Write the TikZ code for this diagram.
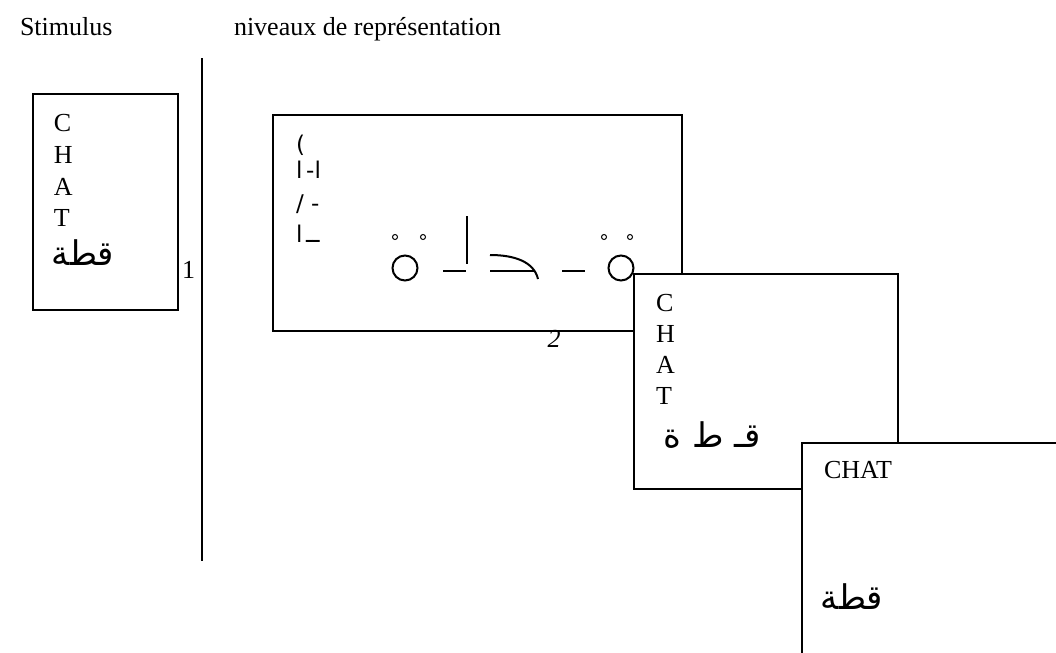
\documentclass[tikz,border=0pt]{standalone}
\usepackage{fontspec}
\setmainfont{Liberation Serif}
\newfontfamily\arabicfont[Script=Arabic]{DejaVu Sans}
\newfontfamily\glyphfont{DejaVu Sans}
\TeXXeTstate=1
\begin{document}
\begin{tikzpicture}[x=0.5pt,y=-0.5pt,line width=1pt,
  box/.style={draw,line width=1pt,fill=white},
  lbl/.style={inner sep=0pt,font=\fontsize{13}{15.5}\selectfont},
  ar/.style={inner sep=0pt,font=\arabicfont\fontsize{17}{20}\selectfont},
  gl/.style={inner sep=0pt,font=\glyphfont\fontsize{11.5}{13}\selectfont},
  thin/.style={line width=0.5pt}]
\useasboundingbox (0,0) rectangle (1056,653);
\clip (0,0) rectangle (1056,653);
% titles
\node[lbl,anchor=base west] (stim) at (19,35) {Stimulus};
\node[lbl,anchor=base west] (niv) at (233,35) {niveaux de représentation};
% separator
\coordinate (vtop) at (202,58);
\coordinate (vbot) at (202,561);
\draw (vtop) -- (vbot);
% box 1
\draw[box] (33,94) rectangle (178,310);
\node[lbl,anchor=base west] (c1) at (53,131) {C};
\node[lbl,anchor=base west] (h1) at (53,163) {H};
\node[lbl,anchor=base west] (a1) at (53,195) {A};
\node[lbl,anchor=base west] (t1) at (53,226) {T};
\node[ar] (ar1) at (83,253) {\beginR قطة\endR};
\node[lbl,anchor=base west] (one) at (181,278) {1};
% box 2
\draw[box] (273,115) rectangle (682,331);
\node[gl,anchor=base west] (g1) at (295,152) {(};
\node[gl,anchor=base west] (g2) at (295,178) {\mbox{ا}\,\mbox{-}\mbox{ا}};
\node[gl,anchor=base west] (g3) at (295,211) {/\ -};
\node[gl,anchor=base west] (g4) at (295,242) {\mbox{ا}\,\mbox{ـ}\mbox{ـ}};
% box 3
\draw[box] (634,274) rectangle (898,489);
\node[lbl,anchor=base west] (c3) at (655,311) {C};
\node[lbl,anchor=base west] (h3) at (655,342) {H};
\node[lbl,anchor=base west] (a3) at (655,373) {A};
\node[lbl,anchor=base west] (t3) at (655,404) {T};
\node[ar] (ar3) at (712,435) {\beginR قـ ط ة\endR};
% box 4
\draw[box] (802,443) rectangle (1090,690);
\node[lbl,anchor=base west] (chat4) at (823,478) {CHAT};
\node[ar] (ar4) at (852,597) {\beginR قطة\endR};
% drawing in box 2
\draw[thin] (395,237) circle[radius=1.25pt];
\draw[thin] (423,237) circle[radius=1.25pt];
\draw (405,268) circle[radius=6.25pt];
\draw (443,271) -- (466,271);
\draw (467,216) -- (467,264);
\draw (490,255) .. controls (515,255) and (534,262) .. (538,279);
\draw (490,271) -- (535,271);
\draw (562,271) -- (585,271);
\draw[thin] (604,237) circle[radius=1.25pt];
\draw[thin] (630,237) circle[radius=1.25pt];
\draw (621,268) circle[radius=6.25pt];
\node[lbl,anchor=base,font=\fontsize{13}{15.5}\selectfont\itshape] (two) at (554,347) {2};
\end{tikzpicture}
\end{document}
